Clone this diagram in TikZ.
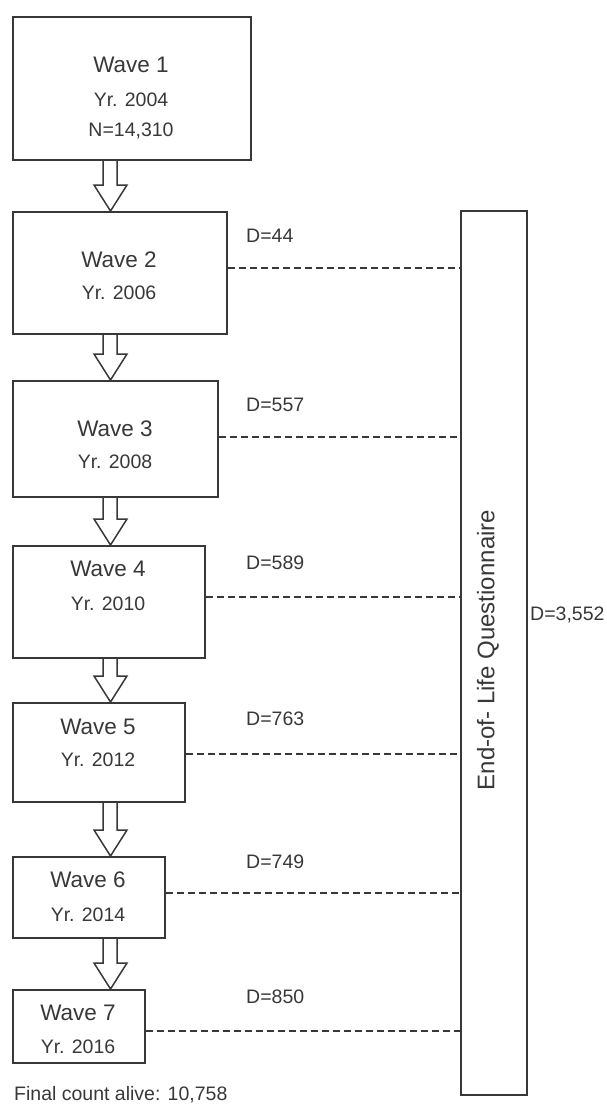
\documentclass[tikz,border=0pt]{standalone}
\usepackage{fontspec}
\setmainfont{Liberation Sans}
\usetikzlibrary{calc}
\definecolor{ink}{gray}{0.22}
\tikzset{
  box/.style={draw=ink, line width=1.6pt, anchor=north west, inner sep=0pt},
  bigbox/.style={draw=ink, line width=1.6pt, anchor=north west, inner sep=0pt},
  ttl/.style={text=ink, font=\fontsize{22.5}{27}\selectfont, inner sep=0pt},
  sub/.style={text=ink, font=\fontsize{19.5}{23}\selectfont, inner sep=0pt},
  dlab/.style={text=ink, font=\fontsize{19.5}{23}\selectfont, inner sep=0pt, anchor=west},
  dline/.style={draw=ink, line width=1.5pt, dash pattern=on 7pt off 4pt},
  harrow/.style={draw=ink, line width=1.5pt, line join=miter},
}
\newcommand{\hollowarrow}[2]{%
  \draw[harrow] let \p1=(#1.south), \p2=(#2.north) in
    (103pt,\y1) -- (103pt,\y2+26pt) -- (94pt,\y2+26pt) -- (110.5pt,\y2)
    -- (127pt,\y2+26pt) -- (117pt,\y2+26pt) -- (117pt,\y1);}
\begin{document}
\begin{tikzpicture}[x=1pt,y=-1pt]
\useasboundingbox (0,0) rectangle (607,1106);
% wave boxes
\node[box, minimum width=238pt, minimum height=143pt] (w1) at (12,16) {};
\node[box, minimum width=214pt, minimum height=122pt] (w2) at (12,211) {};
\node[box, minimum width=205pt, minimum height=116pt] (w3) at (12,380) {};
\node[box, minimum width=192pt, minimum height=112pt] (w4) at (12,545) {};
\node[box, minimum width=172pt, minimum height=99pt] (w5) at (12,702) {};
\node[box, minimum width=152pt, minimum height=81pt] (w6) at (12,856) {};
\node[box, minimum width=132pt, minimum height=73pt] (w7) at (12,989) {};
% box texts
\node[ttl] (t1) at (131,65) {Wave 1};
\node[sub] (y1) at (131,100) {Yr. 2004};
\node[sub] (n1) at (131,131) {N=14,310};
\node[ttl] (t2) at (119,260) {Wave 2};
\node[sub] (y2) at (119,293) {Yr. 2006};
\node[ttl] (t3) at (115,429) {Wave 3};
\node[sub] (y3) at (115,462) {Yr. 2008};
\node[ttl] (t4) at (108,569) {Wave 4};
\node[sub] (y4) at (108,604) {Yr. 2010};
\node[ttl] (t5) at (98,727) {Wave 5};
\node[sub] (y5) at (98,760) {Yr. 2012};
\node[ttl] (t6) at (88,880) {Wave 6};
\node[sub] (y6) at (88,915) {Yr. 2014};
\node[ttl] (t7) at (78,1013) {Wave 7};
\node[sub] (y7) at (78,1047) {Yr. 2016};
% arrows
\hollowarrow{w1}{w2}
\hollowarrow{w2}{w3}
\hollowarrow{w3}{w4}
\hollowarrow{w4}{w5}
\hollowarrow{w5}{w6}
\hollowarrow{w6}{w7}
% questionnaire box
\node[bigbox, minimum width=66pt, minimum height=884pt] (q) at (460,210) {};
\node[text=ink, font=\fontsize{24}{28}\selectfont, rotate=90, inner sep=0pt] (qt) at (488,650) {End-of- Life Questionnaire};
\node[dlab] (dt) at (530,615) {D=3,552};
% dashed links
\draw[dline] (w2.east |- 0,268) -- (q.west |- 0,268);
\draw[dline] (w3.east |- 0,437) -- (q.west |- 0,437);
\draw[dline] (w4.east |- 0,597) -- (q.west |- 0,597);
\draw[dline] (w5.east |- 0,754) -- (q.west |- 0,754);
\draw[dline] (w6.east |- 0,893) -- (q.west |- 0,893);
\draw[dline] (w7.east |- 0,1031) -- (q.west |- 0,1031);
% D labels
\node[dlab] (d2) at (246,236) {D=44};
\node[dlab] (d3) at (246,405) {D=557};
\node[dlab] (d4) at (246,563) {D=589};
\node[dlab] (d5) at (246,719) {D=763};
\node[dlab] (d6) at (246,862) {D=749};
\node[dlab] (d7) at (246,997) {D=850};
% final
\node[dlab] (fc) at (14,1095) {Final count alive: 10,758};
\end{tikzpicture}
\end{document}
